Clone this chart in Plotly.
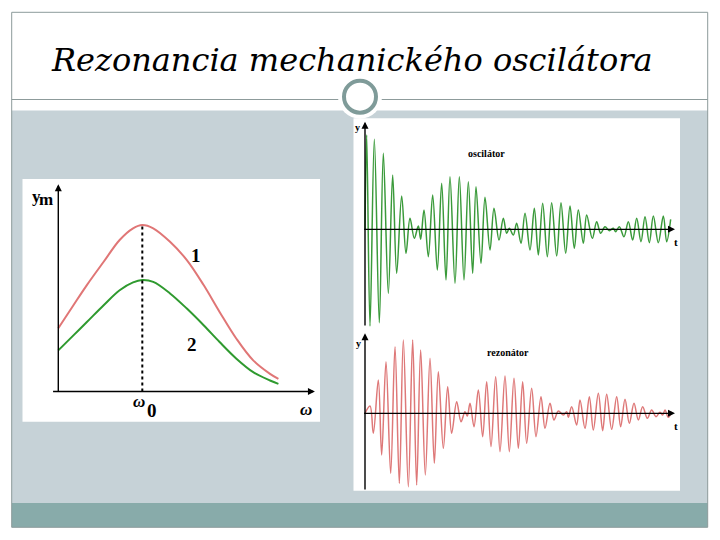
import plotly.graph_objects as go

# ---------------- data ----------------
title_text = "Rezonancia mechanického oscilátora"

# left chart: resonance curves (omega in units of omega0, amplitude relative to curve 1 peak)
omega = [0.0, 0.18, 0.34, 0.54, 0.73, 0.89, 1.0, 1.13, 1.33, 1.53, 1.73, 1.92, 2.12, 2.32, 2.52, 2.62]
curve1 = [0.380, 0.518, 0.639, 0.779, 0.910, 0.980, 1.0, 0.980, 0.899, 0.789, 0.639, 0.478, 0.317, 0.187, 0.106, 0.076]
curve2 = [0.247, 0.337, 0.417, 0.518, 0.608, 0.655, 0.669, 0.658, 0.589, 0.498, 0.398, 0.297, 0.197, 0.116, 0.066, 0.046]
curve_labels = ["1", "2"]

# right top: oscillator signal, successive extremes (t, y)
osc_t = [0, 5, 15, 28, 43, 55, 70, 83, 95, 110, 123, 135, 148, 160, 167, 177, 190, 203, 217,
         230, 243, 255, 270, 283, 297, 310, 323, 333, 348, 360, 375, 387, 402, 415, 425, 433,
         445, 455, 468, 480, 495, 508, 520, 533, 547, 560, 575, 588, 602, 615, 628, 640, 655,
         665, 682, 695, 707, 720, 733, 745, 752, 763, 777, 790, 803, 815, 828, 840, 853, 865,
         880, 895, 905, 917]
osc_y = [0, 283, -290, 270, -280, 228, -192, 163, -132, 100, -72, 33, -27, 10, -30, 58, -82,
         103, -122, 138, -152, 158, -162, 158, -152, 143, -132, 128, -102, 96, -62, 63, -32, 33,
         -12, 3, -17, 18, -42, 48, -62, 63, -77, 78, -82, 80, -80, 80, -72, 70, -57, 58, -42, 43,
         -27, 23, -12, 8, -4, 3, -7, 8, -22, 23, -32, 33, -37, 38, -40, 40, -40, 40, -37, 30]

# right bottom: resonator signal, successive extremes (t, y)
rez_t = [0, 15, 25, 40, 50, 63, 77, 90, 103, 115, 130, 143, 155, 167, 181, 195, 208, 220, 235,
         248, 260, 275, 288, 300, 307, 315, 327, 340, 353, 365, 378, 392, 405, 420, 433, 447,
         460, 473, 485, 500, 513, 528, 540, 555, 567, 580, 595, 605, 610, 620, 635, 645, 660,
         673, 685, 700, 713, 725, 740, 755, 767, 780, 793, 807, 820, 833, 847, 860, 873, 885,
         893, 900, 910, 920]
rez_y = [0, 22, -60, 100, -125, 155, -180, 200, -210, 220, -220, 220, -215, 190, -185, 165,
         -150, 125, -105, 80, -60, 35, -25, 5, -8, 30, -40, 70, -70, 95, -100, 110, -115, 112,
         -115, 105, -105, 95, -90, 75, -70, 50, -45, 30, -20, 7, -5, 5, -12, 20, -35, 40, -45,
         50, -50, 60, -52, 57, -48, 50, -40, 42, -30, 30, -20, 20, -15, 10, -10, 3, -5, 10, -12, 5]
osc_label = "oscilátor"
rez_label = "rezonátor"

# ---------------- styling helpers ----------------
# page body has an 8px margin, so the figure is 704x524 placed at (8, 8)
OFF = 8
W, H = 704, 524
def X(p):
    return (p - OFF) / W
def Y(p):
    return 1 - (p - OFF) / H

border = "#8d9b9b"
panel = "#c6d2d7"
band = "#88abaa"
ring = "#7f9b99"
red = "#e07676"
green = "#2f9a2f"
wave_green = "#3a9a3a"
wave_red = "#de7878"
serif = "DejaVu Serif"
lab_serif = "Liberation Serif"

fig = go.Figure()

fig.add_trace(go.Scatter(x=omega, y=curve1, mode="lines", line=dict(color=red, width=2, shape="spline"),
                         xaxis="x", yaxis="y", hoverinfo="skip"))
fig.add_trace(go.Scatter(x=omega, y=curve2, mode="lines", line=dict(color=green, width=2, shape="spline"),
                         xaxis="x", yaxis="y", hoverinfo="skip"))
fig.add_trace(go.Scatter(x=osc_t, y=osc_y, mode="lines", line=dict(color=wave_green, width=1.5, shape="spline"),
                         xaxis="x2", yaxis="y2", hoverinfo="skip"))
fig.add_trace(go.Scatter(x=rez_t, y=rez_y, mode="lines", line=dict(color=wave_red, width=1.5, shape="spline"),
                         xaxis="x3", yaxis="y3", hoverinfo="skip"))

hidden = dict(visible=False, fixedrange=True)
fig.update_layout(
    width=W, height=H, margin=dict(l=0, r=0, t=0, b=0),
    paper_bgcolor="white", plot_bgcolor="rgba(0,0,0,0)", showlegend=False,
    xaxis=dict(domain=[X(22), X(320)], range=[-0.432, 3.115], **hidden),
    yaxis=dict(domain=[Y(422), Y(178)], range=[-0.183, 1.282], **hidden),
    xaxis2=dict(domain=[X(354), X(680)], range=[-33, 945], anchor="y2", **hidden),
    yaxis2=dict(domain=[Y(330), Y(118)], range=[-302, 334], anchor="x2", **hidden),
    xaxis3=dict(domain=[X(354), X(680)], range=[-33, 945], anchor="y3", **hidden),
    yaxis3=dict(domain=[Y(491), Y(330)], range=[-233, 250], anchor="x3", **hidden),
)

shapes = []
shapes.append(dict(type="rect", xref="paper", yref="paper", x0=X(11.7), x1=X(707.7), y0=Y(527.3), y1=Y(12.3),
                   fillcolor="white", line=dict(width=0), layer="below"))
shapes.append(dict(type="rect", xref="paper", yref="paper", x0=X(11.7), x1=X(707.7), y0=Y(503), y1=Y(110.5),
                   fillcolor=panel, line=dict(width=0), layer="below"))
shapes.append(dict(type="rect", xref="paper", yref="paper", x0=X(11.7), x1=X(707.7), y0=Y(527.3), y1=Y(503),
                   fillcolor=band, line=dict(width=0), layer="below"))
shapes.append(dict(type="line", xref="paper", yref="paper", x0=X(11.7), x1=X(707.7), y0=Y(99.5), y1=Y(99.5),
                   line=dict(color=border, width=1), layer="below"))
shapes.append(dict(type="rect", xref="paper", yref="paper", x0=X(22.5), x1=X(320), y0=Y(421.7), y1=Y(179),
                   fillcolor="white", line=dict(width=0), layer="below"))
shapes.append(dict(type="rect", xref="paper", yref="paper", x0=X(353.5), x1=X(680), y0=Y(490.7), y1=Y(118.3),
                   fillcolor="white", line=dict(width=0), layer="below"))
shapes.append(dict(type="rect", xref="paper", yref="paper", x0=X(11.7), x1=X(707.7), y0=Y(527.3), y1=Y(12.3),
                   line=dict(color=border, width=1), layer="below"))
shapes.append(dict(type="circle", xref="paper", yref="paper", x0=X(360 - 22), x1=X(360 + 22),
                   y0=Y(96.7 + 22), y1=Y(96.7 - 22), fillcolor="white", line=dict(width=0), layer="above"))
shapes.append(dict(type="circle", xref="paper", yref="paper", x0=X(360 - 16), x1=X(360 + 16),
                   y0=Y(96.7 + 16), y1=Y(96.7 - 16), fillcolor="white", line=dict(color=ring, width=4), layer="above"))
shapes.append(dict(type="line", xref="x", yref="y", x0=1.0, x1=1.0, y0=0, y1=1.0,
                   line=dict(color="black", width=2, dash="dot")))
fig.update_layout(shapes=shapes)

ann = []
def arrow(xr, yr, x0, y0, x1, y1):
    ann.append(dict(xref=xr, yref=yr, axref=xr, ayref=yr, x=x1, y=y1, ax=x0, ay=y0, text="",
                    showarrow=True, arrowhead=2, arrowsize=1, arrowwidth=1.4, arrowcolor="black", standoff=0))

arrow("x", "y", 0, -0.01, 0, 1.245)
arrow("x", "y", -0.08, 0, 3.055, 0)
arrow("x2", "y2", 0, -293, 0, 323)
arrow("x2", "y2", -7, 0, 930, 0)
arrow("x3", "y3", 0, -233, 0, 240)
arrow("x3", "y3", -7, 0, 930, 0)

def txt(s, px, py, size, bold=True, italic=False, family=lab_serif, color="black"):
    ann.append(dict(xref="paper", yref="paper", x=X(px), y=Y(py), text=s, showarrow=False,
                    font=dict(family=family, size=size, color=color,
                              weight="bold" if bold else "normal",
                              style="italic" if italic else "normal"),
                    xanchor="center", yanchor="middle"))

# title
ann.append(dict(xref="paper", yref="paper", x=X(352), y=Y(60), text=title_text, showarrow=False,
                font=dict(family=serif, size=32, color="black", style="italic"),
                xanchor="center", yanchor="middle"))
txt("y", 36, 196, 17)
txt("m", 46, 199, 17)
txt(curve_labels[0], 196, 255, 19)
txt(curve_labels[1], 192, 344, 19)
txt("ω", 139, 401, 17, italic=True)
txt("0", 152, 410, 19)
txt("ω", 306, 409, 17, italic=True)
txt("y", 357, 128, 10)
txt("t", 676, 242, 11)
txt(osc_label, 486, 154, 10)
txt("y", 358, 343, 10)
txt("t", 676, 426, 11)
txt(rez_label, 508, 352, 10)

fig.update_layout(annotations=ann)

fig.write_html("out.html")
